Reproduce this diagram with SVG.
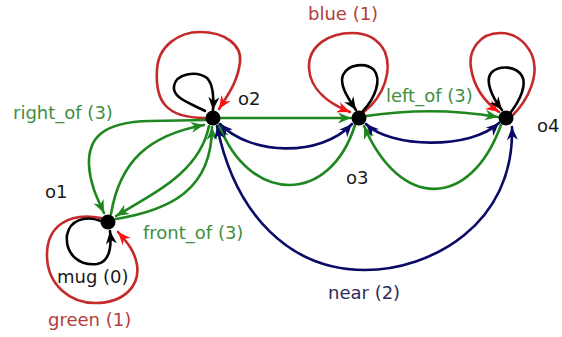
<svg xmlns="http://www.w3.org/2000/svg" width="562" height="337" viewBox="0 0 562 337">
<style>
text{font-family:"DejaVu Sans",Verdana,sans-serif;font-size:18px}
.e{fill:none;stroke-width:2.6;stroke-linecap:round;stroke-linejoin:round}
.g{stroke:#1f871f;marker-end:url(#ag)}
.b{stroke:#0a0a66;marker-end:url(#ab);marker-start:url(#ab)}
.r{stroke:#c42a2a;marker-end:url(#ar)}
.k{stroke:#000;marker-end:url(#ak)}
.node{fill:#000}
.tg{fill:#3f8f3f}.tr{fill:#b33c3c}.tb{fill:#2c2c5c}.tk{fill:#1a1a1a}
</style>
<defs>
<marker id="ag" viewBox="-14 -6 14 12" refX="0" refY="0" markerWidth="14" markerHeight="12" markerUnits="userSpaceOnUse" orient="auto-start-reverse"><path d="M0,0 L-13,-5.5 L-9,0 L-13,5.5 Z" fill="#1f871f"/></marker>
<marker id="ab" viewBox="-14 -6 14 12" refX="0" refY="0" markerWidth="14" markerHeight="12" markerUnits="userSpaceOnUse" orient="auto-start-reverse"><path d="M0,0 L-13,-5.5 L-9,0 L-13,5.5 Z" fill="#0a0a66"/></marker>
<marker id="ar" viewBox="-14 -6 14 12" refX="0" refY="0" markerWidth="14" markerHeight="12" markerUnits="userSpaceOnUse" orient="auto-start-reverse"><path d="M0,0 L-13,-5.5 L-9,0 L-13,5.5 Z" fill="#ff1010"/></marker>
<marker id="ak" viewBox="-14 -6 14 12" refX="0" refY="0" markerWidth="14" markerHeight="12" markerUnits="userSpaceOnUse" orient="auto-start-reverse"><path d="M0,0 L-13,-5.5 L-9,0 L-13,5.5 Z" fill="#000"/></marker>
</defs>
<g id="connectors">
<!-- red loops -->
<path class="e r" d="M205,118 C165,118 155,100 157,70 C158,45 180,32 200,32 C225,32 242,45 240,62 C238,80 230,92 219,109"/>
<path class="e r" d="M364,112 C385,95 392,70 385,52 C378,38 365,33 352,33 C330,33 308,45 309,68 C310,90 330,104 350,112"/>
<path class="e r" d="M513,115 C528,100 540,75 532,55 C525,40 513,33 500,33 C480,33 468,50 471,68 C474,88 485,102 499,112"/>
<path class="e r" d="M101,218 C70,212 46,225 47,257 C48,285 70,303 95,303 C125,303 140,285 137,265 C135,252 128,243 118,232"/>
<!-- black loops -->
<path class="e k" d="M205,111 C190,103 172,98 174,86 C176,74 196,70 207,78 C213,84 214,95 213,110"/>
<path class="e k" d="M363,111 C375,98 382,80 374,70 C366,62 348,64 343,75 C339,85 348,98 356,110"/>
<path class="e k" d="M511,112 C520,100 527,85 522,76 C516,66 500,65 492,72 C484,80 492,97 502,110"/>
<path class="e k" d="M101,221 C85,215 70,220 67,235 C65,255 80,266 97,264 C108,262 112,250 110,231"/>
<!-- green -->
<path class="e g" d="M220,118 L351,118"/>
<path class="e g" d="M366,116 Q433,106 498,117"/>
<path class="e g" d="M501,125 C470,210 400,210 364,126"/>
<path class="e g" d="M355,125 C330,205 250,205 219,125"/>
<path class="e g" d="M206,120 L150,121 C100,122 88,140 89,165 C90,185 98,200 104,213"/>
<path class="e g" d="M111,214 C120,160 150,135 204,125"/>
<path class="e g" d="M209,126 C200,170 160,190 116,216"/>
<path class="e g" d="M116,219 C170,210 212,190 212,127"/>
<!-- blue -->
<path class="e b" d="M220,124 C250,155 320,158 352,124"/>
<path class="e b" d="M366,124 C390,148 470,150 499,123"/>
<path class="e b" d="M217,126 C235,215 290,270 365,270 C430,270 515,225 512,127"/>
<text class="tg" x="13" y="119">right_of (3)</text>
<text class="tg" x="386" y="102">left_of (3)</text>
<text class="tg" x="143" y="239">front_of (3)</text>
<text class="tr" x="308" y="20">blue (1)</text>
<text class="tr" x="48" y="326">green (1)</text>
<text class="tk" x="57" y="283">mug (0)</text>
<text class="tb" x="328" y="299">near (2)</text>
</g>
<g id="o1"><circle class="node" cx="108" cy="222" r="7.5"/><text class="tk" x="45" y="198">o1</text></g>
<g id="o2"><circle class="node" cx="213" cy="118" r="7.5"/><text class="tk" x="238" y="105">o2</text></g>
<g id="o3"><circle class="node" cx="359" cy="118" r="7.5"/><text class="tk" x="346" y="184">o3</text></g>
<g id="o4"><circle class="node" cx="506" cy="118" r="7.5"/><text class="tk" x="537" y="132">o4</text></g>
</svg>
